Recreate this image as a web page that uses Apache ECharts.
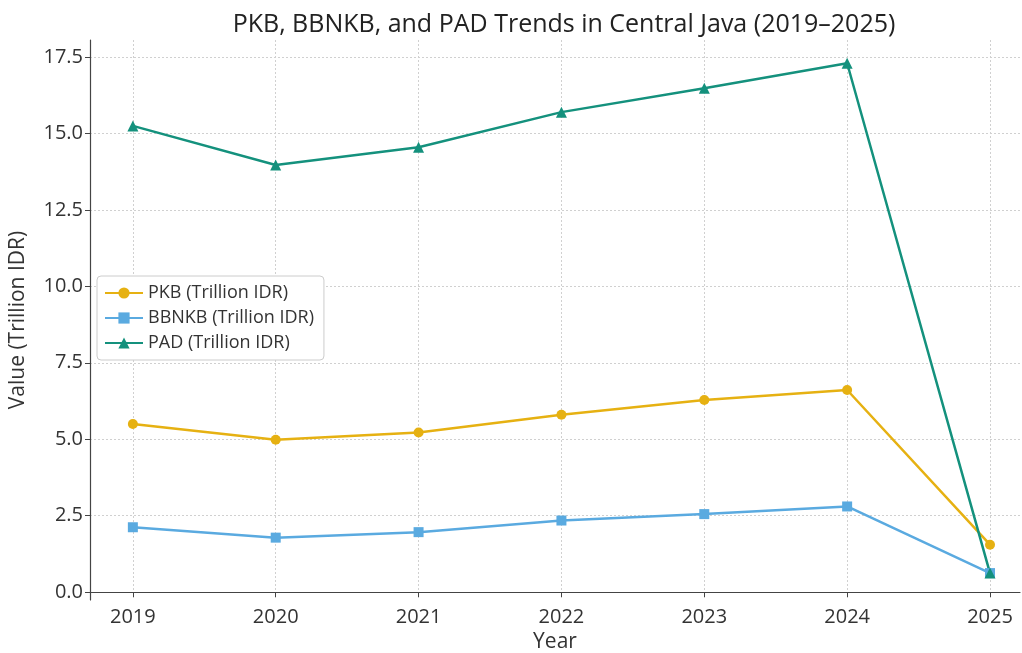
<!DOCTYPE html>
<html>
<head>
<meta charset="utf-8">
<script src="https://cdn.jsdelivr.net/npm/echarts@6/dist/echarts.min.js"></script>
<style>
  html, body { margin: 0; padding: 0; background: #fff; }
  #chart { width: 1022px; height: 653px; }
</style>
</head>
<body>
<div id="chart"></div>
<script>
// values (trillion IDR)
const years = [2019, 2020, 2021, 2022, 2023, 2024, 2025];
const pkb = [5.5, 4.98, 5.22, 5.8, 6.28, 6.61, 1.55];
const bbnkb = [2.12, 1.78, 1.96, 2.34, 2.55, 2.8, 0.62];
const pad = [15.25, 13.97, 14.55, 15.7, 16.48, 17.3, 0.62];
const yTicks = [0, 2.5, 5, 7.5, 10, 12.5, 15, 17.5];

const font = 'Open Sans';
const pair = arr => years.map((y, i) => [y, arr[i]]);

function line(name, data, color, symbol, size) {
  return {
    name, type: 'line', data: pair(data),
    symbol, symbolSize: size,
    lineStyle: { color, width: 2.5 },
    itemStyle: { color },
    emphasis: { disabled: true }
  };
}

const chart = echarts.init(document.getElementById('chart'), null, { renderer: 'canvas' });
chart.setOption({
  animation: false,
  backgroundColor: '#fff',
  textStyle: { fontFamily: font },
  title: {
    text: 'PKB, BBNKB, and PAD Trends in Central Java (2019–2025)',
    left: 559, top: 7, textAlign: 'center',
    textStyle: { fontFamily: font, fontSize: 25, fontWeight: 'normal', color: '#222' }
  },
  legend: {
    orient: 'vertical', left: 97, top: 276,
    padding: [8, 10, 8, 7], itemGap: 7,
    itemWidth: 38, itemHeight: 14,
    backgroundColor: '#fff', borderColor: '#ccc', borderWidth: 1, borderRadius: 4,
    textStyle: { fontFamily: font, fontSize: 18, color: '#333' }
  },
  grid: { left: 90, right: 2, top: 40, bottom: 53, outerBoundsMode: 'none' },
  xAxis: {
    type: 'value', min: 2018.7, max: 2025.21,
    name: 'Year', nameLocation: 'middle', nameGap: 29,
    nameTextStyle: { fontFamily: font, fontSize: 21, color: '#333' },
    axisLine: { lineStyle: { color: '#444', width: 1.2 } },
    axisTick: { show: true, customValues: years, length: 5, lineStyle: { color: '#444' } },
    axisLabel: { customValues: years, fontFamily: font, fontSize: 20, color: '#333', margin: 7, formatter: v => String(v) },
    splitLine: { show: true, lineStyle: { color: '#d0d0d0', type: [2, 2] } }
  },
  yAxis: {
    type: 'value', min: -0.26, max: 18.06,
    name: 'Value (Trillion IDR)', nameLocation: 'middle', nameGap: 61, nameRotate: 90,
    nameTextStyle: { fontFamily: font, fontSize: 21, color: '#333' },
    axisLine: { show: true, lineStyle: { color: '#444', width: 1.2 } },
    axisTick: { show: true, customValues: yTicks, length: 5, lineStyle: { color: '#444' } },
    axisLabel: { customValues: yTicks, fontFamily: font, fontSize: 20, color: '#333', margin: 7, formatter: v => v.toFixed(1) },
    splitLine: { show: true, lineStyle: { color: '#d0d0d0', type: [2, 2] } }
  },
  series: [
    line('PKB (Trillion IDR)', pkb, '#e6b112', 'circle', 10),
    line('BBNKB (Trillion IDR)', bbnkb, '#5aaae0', 'rect', 10),
    line('PAD (Trillion IDR)', pad, '#14917d', 'triangle', 11)
  ]
});
</script>
</body>
</html>
